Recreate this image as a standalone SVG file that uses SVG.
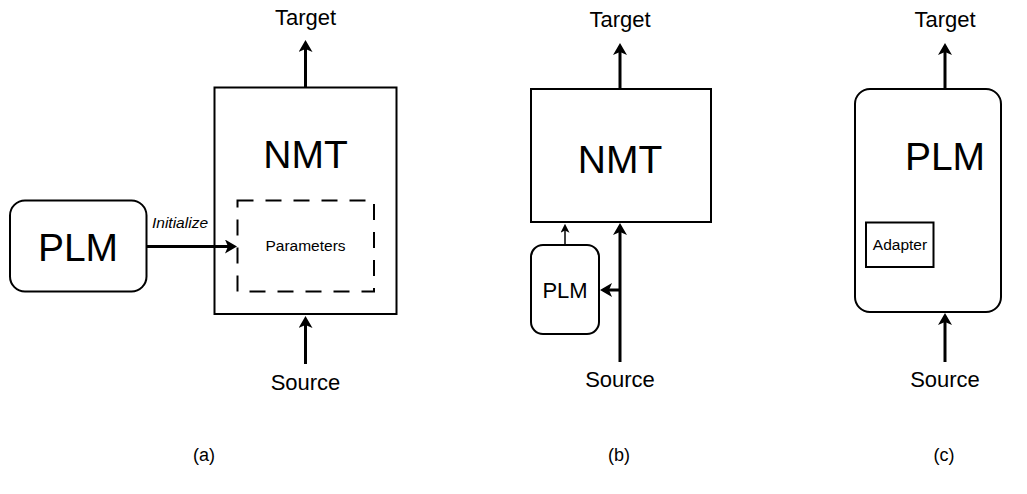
<svg xmlns="http://www.w3.org/2000/svg" width="1027" height="494" viewBox="0 0 1027 494">
<style>
text{font-family:"Liberation Sans",Arial,sans-serif;fill:#000;text-anchor:middle}
.box{fill:#fff;stroke:#000;stroke-width:2}
.dash{fill:none;stroke:#000;stroke-width:2;stroke-dasharray:16 12}
.big{font-size:39px}
.io{font-size:22px}
.cap{font-size:18px}
.thick{stroke:#000;stroke-width:3;fill:none;marker-end:url(#ah)}
.thin{stroke:#000;stroke-width:1.5;fill:none;marker-end:url(#ahs)}
</style>
<defs>
<marker id="ah" markerUnits="userSpaceOnUse" viewBox="0 0 12 14" markerWidth="12" markerHeight="14" refX="9" refY="7" orient="auto"><path d="M0,0 L12,7 L0,14 L3,7 z" fill="#000"/></marker>
<marker id="ahs" markerUnits="userSpaceOnUse" viewBox="0 0 12 12" markerWidth="9" markerHeight="9" refX="9" refY="6" orient="auto"><path d="M0,0 L12,6 L0,12 L3,6 z" fill="#000"/></marker>
</defs>
<g id="panel-a">
<g id="a-nmt"><rect class="box" x="214.5" y="87.5" width="182" height="226.5"/><text class="big" x="305.5" y="168">NMT</text></g>
<g id="a-params"><rect class="dash" x="237.5" y="200.5" width="136.5" height="91"/><text x="305.5" y="251" font-size="15.5">Parameters</text></g>
<g id="a-plm"><rect class="box" x="10" y="200.5" width="136.5" height="91" rx="15"/><text class="big" x="78" y="261">PLM</text></g>
<g id="a-target"><text class="io" x="305.5" y="25">Target</text></g>
<g id="a-source"><text class="io" x="305.5" y="390">Source</text></g>
</g>
<g id="panel-b">
<g id="b-nmt"><rect class="box" x="531" y="89" width="180" height="133"/><text class="big" x="620" y="173">NMT</text></g>
<g id="b-plm"><rect class="box" x="531" y="245" width="68" height="89" rx="12"/><text x="565" y="298" font-size="22">PLM</text></g>
<g id="b-target"><text class="io" x="620" y="27">Target</text></g>
<g id="b-source"><text class="io" x="620" y="387">Source</text></g>
</g>
<g id="panel-c">
<g id="c-plm"><rect class="box" x="855" y="89" width="146" height="223" rx="15"/><text class="big" x="945" y="170">PLM</text></g>
<g id="c-adapter"><rect class="box" x="866" y="222.5" width="67.5" height="44.5"/><text x="900" y="249.5" font-size="15.5">Adapter</text></g>
<g id="c-target"><text class="io" x="945" y="27">Target</text></g>
<g id="c-source"><text class="io" x="945" y="387">Source</text></g>
</g>
<g id="connectors">
<line class="thick" x1="305.5" y1="87" x2="305.5" y2="43"/>
<line class="thick" x1="305.5" y1="364" x2="305.5" y2="319"/>
<line class="thick" x1="146.5" y1="246.5" x2="234" y2="246.5"/>
<text x="180" y="228" font-size="15.5" font-style="italic">Initialize</text>
<line class="thick" x1="620" y1="89" x2="620" y2="46"/>
<line class="thick" x1="620" y1="362" x2="620" y2="226"/>
<line class="thick" x1="620" y1="290" x2="603" y2="290"/>
<line class="thin" x1="565" y1="245" x2="565" y2="226"/>
<line class="thick" x1="945" y1="89" x2="945" y2="46"/>
<line class="thick" x1="945" y1="362" x2="945" y2="316"/>
</g>
<g id="captions">
<text class="cap" x="204" y="461">(a)</text>
<text class="cap" x="619" y="461">(b)</text>
<text class="cap" x="944" y="461">(c)</text>
</g>
</svg>
